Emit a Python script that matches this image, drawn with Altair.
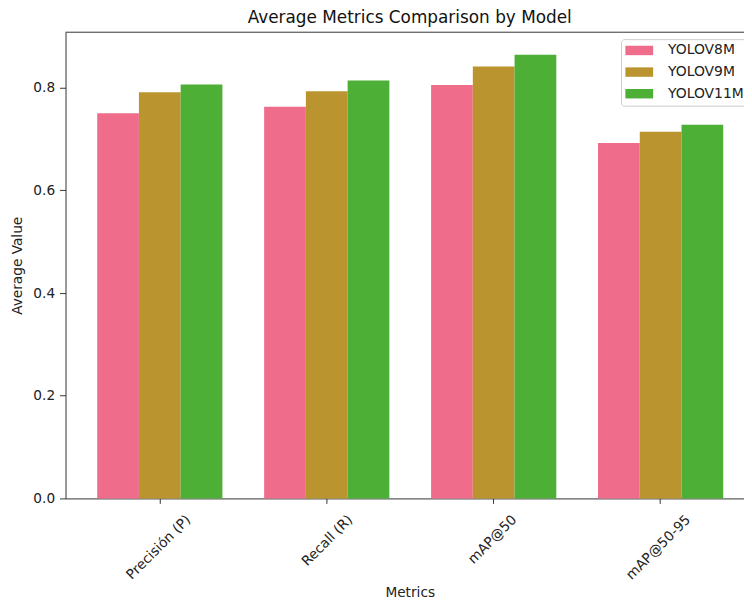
import altair as alt
import pandas as pd

# ---- data ----
metrics = ["Precisión (P)", "Recall (R)", "mAP@50", "mAP@50-95"]
models = ["YOLOV8M", "YOLOV9M", "YOLOV11M"]
yolov8m = [0.750, 0.763, 0.805, 0.692]
yolov9m = [0.791, 0.793, 0.841, 0.714]
yolov11m = [0.806, 0.814, 0.864, 0.728]
y_ticks = [0.0, 0.2, 0.4, 0.6, 0.8]

# ---- styling ----
colors = ["#EF6D8A", "#BA942F", "#4DAF36"]
FONT = "DejaVu Sans"
W, H = 684, 470
label_offsets = [29, 24, 21, 28]

rows = []
for model, vals in zip(models, [yolov8m, yolov9m, yolov11m]):
    for m, v in zip(metrics, vals):
        rows.append({"Metric": m, "Model": model, "Value": v})
df = pd.DataFrame(rows)

offset_cond = {
    "condition": [
        {"test": f"datum.value === '{m}'", "value": off}
        for m, off in zip(metrics, label_offsets)
    ],
    "value": 25,
}

bars = alt.Chart(df).mark_bar(opacity=1).encode(
    x=alt.X(
        "Metric:N",
        sort=metrics,
        scale=alt.Scale(paddingInner=0.25, paddingOuter=0.157, align=0.604),
        axis=alt.Axis(
            title="Metrics",
            labelAngle=-45,
            labelAlign="right",
            labelBaseline="middle",
            labelPadding=14,
            tickSize=5,
            labelOffset=offset_cond,
            titleX=347,
            titleY=99,
            titleBaseline="alphabetic",
            titleAlign="center",
        ),
    ),
    xOffset=alt.XOffset("Model:N", sort=models,
                        scale=alt.Scale(paddingInner=0, paddingOuter=0)),
    y=alt.Y(
        "Value:Q",
        scale=alt.Scale(domain=[0, 0.908], nice=False, zero=True),
        axis=alt.Axis(
            title="Average Value",
            values=y_ticks,
            format=".1f",
            grid=False,
            tickSize=6,
            labelPadding=5,
            titleX=-48,
            titleY=235,
            titleAngle=270,
            titleBaseline="middle",
            titleAlign="center",
        ),
    ),
    color=alt.Color(
        "Model:N",
        sort=models,
        scale=alt.Scale(domain=models, range=colors),
        legend=alt.Legend(
            title=None,
            orient="none",
            legendX=560,
            legendY=7,
            symbolType="M-2,-0.68L2,-0.68L2,0.68L-2,0.68Z",
            symbolSize=196,
            symbolOffset=7,
            symbolStrokeWidth=0,
            symbolOpacity=1,
            labelOffset=22,
            labelFontSize=14,
            labelFont=FONT,
            labelColor="#222",
            padding=4.4,
            rowPadding=7.8,
            strokeColor="#cccccc",
            fillColor="white",
            cornerRadius=3,
        ),
    ),
)

top_spine = alt.Chart(pd.DataFrame({"k": [0]})).mark_rule(
    color="#333", strokeWidth=1
).encode(x=alt.value(0), x2=alt.value(W), y=alt.value(0))

chart = (
    alt.layer(bars, top_spine)
    .properties(
        width=W,
        height=H,
        padding={"left": 58, "top": 22, "right": 0, "bottom": 99},
        autosize=alt.AutoSizeParams(type="none"),
        title=alt.Title(
            "Average Metrics Comparison by Model",
            font=FONT,
            fontSize=17,
            fontWeight="normal",
            color="#111",
            anchor="middle",
            frame="group",
            dx=5,
            dy=16.5,
            offset=8,
            baseline="alphabetic",
        ),
    )
    .configure_view(stroke=None)
    .configure_legend(strokeWidth=1)
    .configure_axis(
        labelFont=FONT,
        titleFont=FONT,
        labelFontSize=13.8,
        titleFontSize=13.8,
        titleFontWeight="normal",
        labelColor="#222",
        titleColor="#222",
        domainColor="#333",
        tickColor="#333",
        domainWidth=1,
        tickWidth=1,
    )
)

chart.save("out.html", embed_options={"renderer": "svg", "actions": False})
